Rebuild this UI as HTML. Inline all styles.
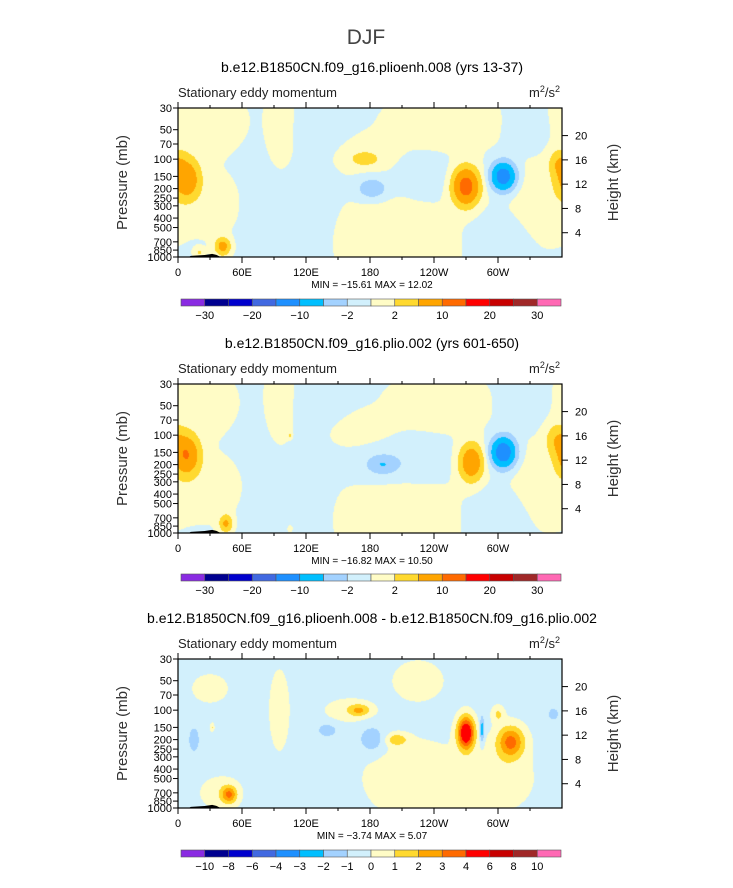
<!DOCTYPE html>
<html><head><meta charset="utf-8"><style>
body{margin:0;background:#fff;width:733px;height:888px;overflow:hidden;font-family:"Liberation Sans",sans-serif;}
#root{position:relative;width:733px;height:888px}
canvas{position:absolute}
</style></head><body><div id="root">
<canvas id="cv1" width="384" height="149" style="left:178px;top:108px"></canvas>
<canvas id="cv2" width="384" height="149" style="left:178px;top:384px"></canvas>
<canvas id="cv3" width="384" height="149" style="left:178px;top:659px"></canvas>
<svg id="svg" width="733" height="888" style="position:absolute;left:0;top:0"></svg>
</div>
<script>
// ---- data ----
const lonTickLabels=["0","60E","120E","180","120W","60W"];
const lonTicks=[0,60,120,180,240,300];
const presTicks=[30,50,70,100,150,200,250,300,400,500,700,850,1000];
const heightTicks=[4,8,12,16,20];
const levels1=[-30,-25,-20,-15,-10,-5,-2,0,2,5,10,15,20,25,30];
const levels3=[-10,-8,-6,-4,-3,-2,-1,0,1,2,3,4,6,8,10];
const labels1=["-30","","-20","","-10","","-2","","2","","10","","20","","30"];
const labels3=["-10","-8","-6","-4","-3","-2","-1","0","1","2","3","4","6","8","10"];
const colors=["#8a2be2","#000090","#0000cd","#4169e1","#1e90ff","#00bfff","#a3d2ff","#d2f0fc","#fffcc6","#ffd92f","#ffa500","#ff6a00","#ff0000","#c80000","#a02828","#ff69b4"];
// blobs: lon, pressure, amplitude, lon-width, logp-width
const blobs1=[[8,160,9,12,0.45],[175,100,3,12,0.15],[182,200,-4,14,0.25],[270,190,13,12,0.42],[305,150,-14,11,0.32],[357,110,4,9,0.3],[42,780,7,7,0.2],[20,900,2.5,4,0.1],
[20,45,1.5,30,0.6],[40,300,1.2,20,0.6],[97,60,1.2,12,1.0],[175,90,1.2,30,0.4],[250,45,1.5,40,0.5],[200,600,1.5,50,0.8],[340,250,1.2,30,0.8],[100,400,-1.5,40,1.2],[230,150,-1.2,25,0.5],[135,50,-1,25,0.6],[330,50,-1,20,0.5],[300,600,-1,25,0.6]];
const blobs2=[[8,160,10,12,0.45],[275,190,9,11,0.42],[305,150,-15,11,0.34],[355,110,4,10,0.35],[192,200,-4,13,0.2],[45,800,6,6,0.2],[105,100,2.5,2,0.08],[105,900,2,3,0.1],
[20,50,1.2,25,0.6],[40,350,1.2,25,0.6],[97,60,1.2,12,1.0],[170,90,1.2,30,0.4],[245,50,1.5,35,0.5],[200,600,1.5,50,0.8],[340,300,1.2,30,0.8],[100,400,-1.5,40,1.2],[230,180,-1.2,25,0.5],[135,50,-1,25,0.6],[325,50,-1,20,0.5],[300,600,-1.2,25,0.6],[190,200,-1.2,30,0.6]];
const blobs3=[[270,170,6,8,0.38],[285,160,-2.5,2,0.3],[312,210,3.6,13,0.38],[300,110,1.5,6,0.2],[205,200,2,10,0.14],[170,100,2,10,0.14],[182,200,-1.5,12,0.32],[140,160,-1.3,9,0.16],[15,200,-1.3,5,0.3],[48,730,3,7,0.2],[32,150,1.5,2,0.1],[352,110,-1.2,5,0.15],
[220,500,1.2,45,0.9],[225,50,1.0,25,0.5],[40,700,1,20,0.4],[300,500,1,35,0.8],[95,100,1,10,1.0],[30,60,0.8,20,0.4],[160,100,0.9,25,0.3]];
const base1=-0.1, base2=-0.1, base3=-0.4;

const svg=document.getElementById('svg');
const NS="http://www.w3.org/2000/svg";
function el(tag,attrs,parent){const e=document.createElementNS(NS,tag);for(const k in attrs)e.setAttribute(k,String(attrs[k]));(parent||svg).appendChild(e);return e;}
function txt(s,x,y,size,anchor,fill,name,parent){const t=el('text',{x:x,y:y,'font-size':size,'text-anchor':anchor,fill:fill,'font-family':'Liberation Sans, sans-serif'},parent);t.textContent=s;


return t;}
function tspan(parent,s,attrs){const t=el('tspan',attrs,parent);t.textContent=s;return t;}

const X0=178,W=384,H=149;
function field(blobs,base,lon,p){let f=base;const z=Math.log(p);for(const b of blobs){let dl=Math.abs(lon-b[0]);if(dl>180)dl=360-dl;const dz=z-Math.log(b[1]);f+=b[2]*Math.exp(-Math.pow(dl/b[3],2)-Math.pow(dz/b[4],2));}return f;}
function colorFor(v,lv){let i=0;while(i<lv.length&&v>=lv[i])i++;return colors[i];}

function panel(title,top,blobs,base,lv,lbls,minmax,cbTop,name,cvId){
  const g=el('g',{});
  
  
  const xs=lon=>X0+lon/360*W;
  const ys=p=>top+Math.log(p/30)/Math.log(1000/30)*H;
  const pAt=y=>30*Math.exp((y-top)/H*Math.log(1000/30));
  txt(title,372,top-36,14,'middle','#000','panel-title',g);
  txt('Stationary eddy momentum',X0,top-11,13,'start','#222','variable-label',g);
  const u=el('text',{x:X0+W-2,y:top-11,'font-size':13,'text-anchor':'end',fill:'#222','font-family':'Liberation Sans, sans-serif'},g);
  
  
  tspan(u,'m',{});tspan(u,'2',{dy:-5,'font-size':9});tspan(u,'/s',{dy:5});tspan(u,'2',{dy:-5,'font-size':9});
  const cv=document.getElementById(cvId);const ctx=cv.getContext('2d');
  const cs=1;
  for(let py=0;py<H;py+=cs){for(let px=0;px<W;px+=cs){
    const lon=(px+cs/2)/W*360,p=pAt(top+py+cs/2);
    ctx.fillStyle=colorFor(field(blobs,base,lon,p),lv);ctx.fillRect(px,py,cs,cs);}}
  const pts=[[xs(10),ys(1000)],[xs(12),ys(975)],[xs(25),ys(955)],[xs(32),ys(930)],[xs(36),ys(950)],[xs(40),ys(1000)]].map(a=>a.join(',')).join(' ');
  const ter=el('polygon',{points:pts,fill:'#000'},g);
  
  
  const fr=el('rect',{x:X0,y:top,width:W,height:H,fill:'none',stroke:'#000','stroke-width':1.2},g);
  
  
  for(let l=0;l<360;l+=30){const major=l%60===0;
    el('line',{x1:xs(l),x2:xs(l),y1:top+H,y2:top+H+(major?6:3),stroke:'#000'},g);
    el('line',{x1:xs(l),x2:xs(l),y1:top,y2:top-(major?6:3),stroke:'#000'},g);}
  lonTicks.forEach((l,i)=>txt(lonTickLabels[i],xs(l),top+H+19,11,'middle','#000','x-tick-label',g));
  presTicks.forEach(p=>{el('line',{x1:X0,x2:X0-5,y1:ys(p),y2:ys(p),stroke:'#000'},g);
    txt(String(p),X0-6,ys(p)+4,11,'end','#000','y-tick-label',g);});
  heightTicks.forEach(h=>{const y=ys(1000*Math.exp(-h/7));el('line',{x1:X0+W,x2:X0+W+6,y1:y,y2:y,stroke:'#000'},g);
    txt(String(h),X0+W+13,y+4,11,'start','#000','height-tick-label',g);});
  const yl=txt('Pressure (mb)',0,0,15,'middle','#333','y-axis-title',g);yl.setAttribute('transform','translate(127,'+(top+H/2)+') rotate(-90)');
  const yr=txt('Height (km)',0,0,15,'middle','#333','right-axis-title',g);yr.setAttribute('transform','translate(618,'+(top+H/2)+') rotate(-90)');
  txt(minmax,372,top+H+31,10,'middle','#000','min-max-label',g);
  const cb=el('g',{},g);
  
  
  const bw=380/16;
  colors.forEach((c,i)=>{el('rect',{x:181+i*bw,y:cbTop,width:bw,height:7,fill:c,stroke:'#555','stroke-width':0.6},cb);});
  lbls.forEach((s,i)=>{if(s)txt(s.replace('-','\u2212'),181+(i+1)*bw,cbTop+20,11,'middle','#000','colorbar-label',cb);});
}
txt('DJF',366,44,21,'middle','#444','figure-title');
panel('b.e12.B1850CN.f09_g16.plioenh.008 (yrs 13-37)',108,blobs1,base1,levels1,labels1,'MIN = \u221215.61   MAX =   12.02',299,'panel-plioenh','cv1');
panel('b.e12.B1850CN.f09_g16.plio.002 (yrs 601-650)',384,blobs2,base2,levels1,labels1,'MIN = \u221216.82   MAX =   10.50',574,'panel-plio','cv2');
panel('b.e12.B1850CN.f09_g16.plioenh.008 - b.e12.B1850CN.f09_g16.plio.002',659,blobs3,base3,levels3,labels3,'MIN =  \u22123.74   MAX =    5.07',850,'panel-difference','cv3');
</script></body></html>
